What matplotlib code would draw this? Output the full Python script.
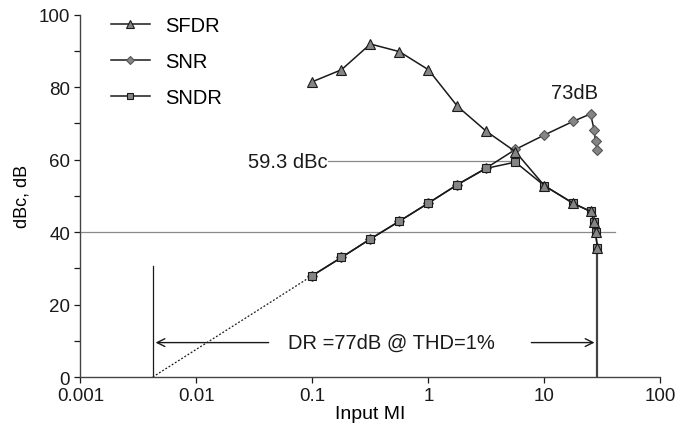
#!/usr/bin/env python3

import matplotlib
matplotlib.use("Agg")
import matplotlib.pyplot as plt
from matplotlib.ticker import FixedLocator, NullLocator

# Data
input_mi = [0.1, 0.178, 0.316, 0.562, 1.0, 1.78, 3.16, 5.62, 10.0, 17.8, 25.0, 26.8, 27.6, 28.6]
sfdr = [81.5, 84.8, 91.9, 89.8, 84.8, 74.7, 67.8, 62.2, 52.8, 47.9, 45.7, 42.9, 40.1, 35.7]
snr = [28.0, 33.0, 38.1, 43.0, 48.0, 53.1, 57.7, 62.8, 66.8, 70.6, 72.6, 68.3, 65.0, 62.7]
sndr = [28.0, 33.0, 38.1, 43.0, 48.0, 53.1, 57.6, 59.3, 52.8, 47.9, 45.7, 42.9, 40.1, 35.7]

# Annotation data
dr_low = 0.0042     # extrapolated zero crossing
dr_high = 28.6      # THD = 1% point
sndr_peak = 59.6
thd_level = 40

plt.rcParams['font.family'] = ['Liberation Sans', 'DejaVu Sans']

fig = plt.figure(figsize=(6.92, 4.35), dpi=100)
ax = fig.add_axes([0.1163, 0.131, 0.838, 0.833])

ink = "#1a1a1a"
grey = "#8a8a8a"

# Reference lines
ax.plot([0.001, 40.4], [thd_level, thd_level], color=grey, lw=0.9, zorder=1)
ax.plot([0.136, 5.62], [sndr_peak, sndr_peak], color=grey, lw=0.9, zorder=1)
ax.plot([dr_low, dr_low], [0, 30.5], color=ink, lw=0.9, zorder=1)
ax.plot([dr_high, dr_high], [0, sndr[-1]], color="#444444", lw=1.6, zorder=1)

# Dotted extrapolation of SNDR
ax.plot([dr_low, input_mi[0]], [0, sndr[0]], color=ink, lw=0.9, ls=(0, (1.5, 1.5)), zorder=1)

# Series
ax.plot(input_mi, sfdr, color=ink, lw=1.1, marker='^', ms=7.5,
        mfc="#858585", mec=ink, mew=0.8, label="SFDR", zorder=3)
ax.plot(input_mi, snr, color=ink, lw=1.1, marker='D', ms=5,
        mfc="#858585", mec="#555555", mew=0.8, label="SNR", zorder=2)
ax.plot(input_mi, sndr, color=ink, lw=1.1, marker='s', ms=5.5,
        mfc="#858585", mec=ink, mew=0.8, label="SNDR", zorder=2.5)

# DR arrows and texts
arrow = dict(arrowstyle='->', color=ink, lw=1.0, mutation_scale=14)
ax.annotate("", xy=(dr_low, 9.5), xytext=(0.0443, 9.5), arrowprops=arrow)
ax.annotate("", xy=(dr_high, 9.5), xytext=(7.3, 9.5), arrowprops=arrow)
ax.text(0.48, 9.5, "DR =77dB @ THD=1%", ha='center', va='center', fontsize=14.5, color=ink)
ax.text(0.134, 59.4, "59.3 dBc", ha='right', va='center', fontsize=14.5, color=ink)
ax.text(18.3, 78.6, "73dB", ha='center', va='center', fontsize=14.5, color=ink)

# Axes
ax.set_xscale('log')
ax.set_xlim(0.001, 100)
ax.set_ylim(0, 100)
ax.xaxis.set_major_locator(FixedLocator([0.001, 0.01, 0.1, 1, 10, 100]))
ax.xaxis.set_minor_locator(NullLocator())
ax.set_xticklabels(["0.001", "0.01", "0.1", "1", "10", "100"])
ax.yaxis.set_major_locator(FixedLocator([0, 20, 40, 60, 80, 100]))
ax.yaxis.set_minor_locator(FixedLocator([10, 30, 50, 70, 90]))
ax.tick_params(axis='both', which='both', direction='out', length=4, width=0.9,
               colors=ink, labelsize=13.5)
ax.tick_params(axis='x', pad=3)
for side in ('top', 'right'):
    ax.spines[side].set_visible(False)
for side in ('left', 'bottom'):
    ax.spines[side].set_color("#444444")
    ax.spines[side].set_linewidth(1.0)

ax.set_xlabel("Input MI", fontsize=14, labelpad=1)
ax.set_ylabel("dBc, dB", fontsize=13, labelpad=6)

ax.legend(loc='upper left', bbox_to_anchor=(0.022, 1.045), frameon=False,
          fontsize=14.5, handlelength=1.9, handletextpad=0.75, labelspacing=0.83,
          markerscale=0.85)

fig.savefig("out.png", dpi=100)
